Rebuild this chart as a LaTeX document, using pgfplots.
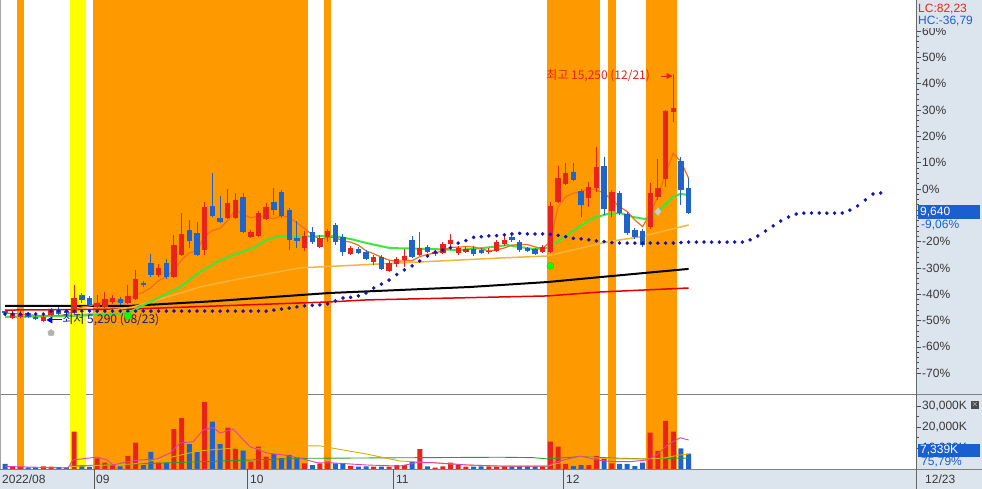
\documentclass[border=0pt]{standalone}
\usepackage{fontspec}
\setmainfont{Liberation Sans}
\newfontfamily\kr{Noto Sans CJK KR}
\usepackage{pgfplots}
\usepackage{pgfplotstable}
\pgfplotsset{compat=1.18}
\usetikzlibrary{arrows.meta}

\definecolor{bandorange}{HTML}{FF9900}
\definecolor{bandyellow}{HTML}{FFFF00}
\definecolor{cred}{HTML}{E8231B}
\definecolor{cblue}{HTML}{1F63CC}
\definecolor{panel}{HTML}{DCE4EE}
\definecolor{maorange}{HTML}{F26B22}
\definecolor{magreen}{HTML}{3CE63C}
\definecolor{mayellow}{HTML}{F2B53A}
\definecolor{mared}{HTML}{E00000}
\definecolor{sar}{HTML}{1414B4}
\definecolor{vmag}{HTML}{E040B0}
\definecolor{vyel}{HTML}{D8B000}
\definecolor{vgrn}{HTML}{2E9A2E}
\definecolor{boxblue}{HTML}{1A5FD0}
\definecolor{lbl}{HTML}{383838}
\definecolor{navy}{HTML}{1C1C80}

% red (up) candles: index, open, high, low, close, volume (K)
\pgfplotstableread{
i O H L C V
1 5400 5680 5360 5600 1100
2 5440 5680 5400 5560 1000
5 5300 5480 5290 5440 1300
6 5520 5800 5480 5720 1100
9 5600 6730 5560 6210 17800
12 5850 6330 5800 6010 5100
13 5850 6450 5800 6170 3000
14 6050 6330 5970 6210 1800
16 6010 6730 5970 6290 6200
17 6170 7340 6130 6970 12500
20 7130 7580 7050 7420 3000
22 7050 8750 7010 8340 19000
23 7940 9630 7900 8790 24400
26 8140 10080 7940 9870 32000
29 9430 10600 9390 10040 19700
30 9430 10440 9390 10160 10100
32 8670 8950 8630 8870 3500
33 8710 9710 8670 9630 10600
34 9390 10040 9350 9870 5900
39 8220 8910 8100 8710 2700
41 8260 8750 8220 8630 2700
42 8670 8990 8470 8910 3500
45 7980 8300 7940 8220 1500
48 7660 7940 7540 7860 1100
50 7300 7700 7260 7620 1100
51 7580 7860 7460 7780 1900
52 7740 8180 7460 7900 1900
54 7940 8870 7900 8220 9500
56 7980 8140 7900 8060 700
57 8020 8470 7980 8380 1300
58 8380 8790 8260 8550 3000
59 8020 8300 7940 8220 1900
60 8060 8260 8020 8180 1100
63 8060 8220 7980 8100 1300
64 8100 8550 8060 8470 1100
65 8380 8790 8300 8550 1400
70 8060 8340 8020 8260 1400
71 8060 10080 8020 9920 13000
72 10080 11530 10040 11040 10600
73 10800 11650 10760 11250 2400
76 10240 10880 9870 10680 1900
77 10640 12290 10480 11490 6200
79 9710 10560 9470 10480 2700
84 9070 10840 8990 10440 17300
85 10280 11810 10160 10640 8600
86 11000 13780 10680 13740 22900
87 13700 15250 13300 13870 17800
}\redc

% blue (down) candles
\pgfplotstableread{
i O H L C V
0 5680 5760 5480 5600 2400
3 5600 5640 5400 5440 800
4 5440 5480 5320 5360 800
7 5760 5850 5520 5560 900
8 5680 5760 5520 5600 800
10 6330 6410 6010 6130 1500
11 6210 6290 5850 5930 1000
15 6170 6250 5930 6010 1300
18 6810 6890 6650 6730 1900
19 7620 7980 7050 7130 8200
21 7620 7780 6970 7050 3000
24 8950 9350 8220 8510 11800
25 8830 9270 7900 7940 8200
27 9920 11250 9470 9510 22500
28 9430 10320 9230 9270 11800
31 10280 10440 8830 8870 8700
35 10080 10640 9550 9750 7100
36 10480 10560 9430 9510 5200
37 9750 9830 8140 8550 6700
38 8630 9310 8220 8510 5600
40 8870 9070 8380 8470 1900
43 9150 9230 8340 8470 2700
44 8670 8790 7900 8060 2300
46 8180 8260 7980 8020 1100
47 8060 8140 7740 7780 1300
49 7860 7940 7340 7380 1100
53 8550 8710 7820 7860 3500
55 8260 8340 8020 8060 1300
61 8180 8300 7900 7980 1100
62 8140 8220 7980 8020 1300
66 8670 8830 8470 8550 1400
67 8470 8550 8060 8140 1400
68 8220 8260 8060 8100 1400
69 8180 8220 7940 7980 1400
74 11290 11650 10920 10960 1400
75 10520 10600 9470 9960 1900
78 11530 11890 9550 9790 5400
80 10440 10520 9550 9630 2400
81 9590 9670 8750 8830 2400
82 8950 9030 8590 8670 1400
83 8910 8990 8260 8340 3000
88 11730 11890 9960 10560 9800
89 10640 11040 9590 9640 7339
}\bluec

\pgfplotstableread{
i P
0 5600
1 5580
2 5560
3 5530
4 5512
5 5480
6 5504
7 5504
8 5536
9 5706
10 5844
11 5886
12 5976
13 6090
14 6090
15 6066
16 6138
17 6330
18 6442
19 6626
20 6908
21 7060
22 7334
23 7746
24 8022
25 8126
26 8690
27 8924
28 9020
29 9326
30 9770
31 9570
32 9442
33 9514
34 9480
35 9398
36 9526
37 9462
38 9238
39 9006
40 8750
41 8574
42 8646
43 8638
44 8508
45 8458
46 8336
47 8110
48 7988
49 7852
50 7732
51 7684
52 7708
53 7708
54 7876
55 7964
56 8020
57 8116
58 8254
59 8254
60 8278
61 8262
62 8190
63 8100
64 8150
65 8224
66 8338
67 8362
68 8362
69 8264
70 8206
71 8480
72 9890
73 10290
74 10430
75 10490
76 10630
77 10560
78 10430
79 10160
80 9890
81 9690
82 9350
83 9080
84 9620
85 10290
86 11230
87 12040
88 11700
89 11030
}\mafive

\pgfplotstableread{
i P
0 5450
7.2 5480
12.4 5520
15.9 5600
17.6 5850
20.2 6250
22.8 6650
25.4 7260
27.6 7660
29.7 7940
32.3 8220
34.1 8550
35.8 8710
37.1 8670
42.7 8710
44.9 8590
47.1 8420
50.1 8220
55.7 8180
58.9 8140
62.2 8220
65.4 8340
68.8 8180
70.6 8220
72.3 8550
74.5 9030
76.6 9430
78.4 9590
80.1 9630
81.8 9470
83.3 9390
84.9 9670
87.0 10280
87.9 10400
89.0 10360
}\matwenty

\pgfplotstableread{
i P
0 5440
9.1 5480
16.7 5850
21.1 6250
25.4 6650
29.7 6930
38.4 7420
51.4 7620
64.5 7820
70.6 7900
78.4 8470
82.7 8670
89.0 9150
}\masixty

\pgfplotstableread{
i P
0 5890
16.3 5890
26.7 6070
42.3 6410
60.5 6650
70.6 6850
77.5 7050
89 7380
}\mablack

\pgfplotstableread{
i P
0 5720
16.3 5760
42.3 6050
47.1 6130
70.6 6290
77.5 6450
89 6610
}\mared

\pgfplotstableread{
i P
0 5560
1 5560
2 5560
3 5560
4 5560
5 5560
6 5680
7 5680
8 5680
9 5680
10 5680
11 5680
12 5680
13 5680
14 5680
15 5680
16 5680
17 5680
18 5680
19 5680
20 5680
21 5680
22 5680
23 5680
24 5680
25 5680
26 5680
27 5680
28 5680
29 5680
30 5680
31 5680
32 5680
33 5680
34 5680
35 5720
36 5760
37 5800
38 5850
39 5890
40 5910
41 5930
42 5970
43 6090
44 6210
45 6230
46 6290
47 6410
48 6610
49 6770
50 6930
51 7150
52 7340
53 7500
54 7700
55 7900
56 8060
57 8140
58 8230
59 8420
60 8520
61 8650
62 8680
63 8710
64 8720
65 8750
66 8790
67 8810
68 8790
69 8790
70 8790
71 8770
72 8730
73 8680
74 8610
75 8590
76 8550
77 8510
78 8480
79 8440
80 8420
81 8420
82 8420
83 8420
84 8420
85 8420
86 8420
87 8420
88 8440
89 8460
90 8460
91 8460
92 8460
93 8460
94 8460
95 8460
96 8460
97 8550
98 8710
99 8910
100 9110
101 9310
102 9470
103 9590
104 9630
105 9630
106 9630
107 9630
108 9630
109 9630
110 9750
111 9920
112 10160
113 10400
114 10440
}\sartab

\pgfplotstableread{
i V
0 1200
8.2 500
8.85 4300
12.0 5700
13.3 4300
14.1 1900
15.9 3500
17.6 4300
19.8 4800
21.5 7600
22.8 12400
24.5 13000
25.8 18600
27.1 19700
28.0 17100
29.7 19000
31.9 10600
34.1 7600
36.2 6700
38.4 5200
40.6 3000
42.7 2900
47.1 1900
51.4 1400
53.6 3000
55.7 3000
60.2 1900
64.5 1400
70.6 1400
71.9 3500
74.9 6200
77.1 4300
79.2 3500
81.4 3500
83.6 4300
84.9 6700
86.2 11400
87.9 14900
89.0 13800
}\vmagtab

\pgfplotstableread{
i V
8.46 1100
16.7 2400
21.1 5200
25.4 8700
29.7 9900
34.1 9500
39.3 11000
41.0 11000
42.7 9900
47.1 7100
51.4 3800
55.7 3000
60.2 1900
64.5 1400
70.6 1400
72.7 3300
74.9 5900
77.1 5200
79.2 4800
83.6 4800
85.7 5200
87.9 6700
89.0 7100
}\vyeltab

\pgfplotstableread{
i V
8.46 1400
21.1 2900
29.7 4000
39.3 5100
54.4 5400
64.5 5600
68.8 5400
70.6 4800
74.9 5900
79.2 5200
83.6 4800
87.9 5200
89.0 5200
}\vgrntab

\begin{document}
\begin{tikzpicture}[x=1pt,y=1pt]
\fill[white] (0,0) rectangle (982,489);
\useasboundingbox (0,0) rectangle (982,489);
\fill[panel] (916,0) rectangle (982,489);
\fill[panel] (0,0) rectangle (916,20);
\draw[gray, line width=1pt] (0,94) -- (982,94);
\draw[gray, line width=0.8pt] (0,20) -- (982,20);

% ================= PRICE PANEL =================
\begin{axis}[
  at={(0pt,94pt)}, anchor=south west, scale only axis,
  width=916pt, height=395pt,
  xmin=-0.651, xmax=118.6, ymin=2298, ymax=18217,
  axis x line=none, axis y line*=right, y axis line style={draw=none},
  scaled y ticks=false,
  ytick={3180,4240,5300,6360,7420,8480,9540,10600,11660,12720,13780,14840,15900,16960},
  yticklabels={-70\%,-60\%,-50\%,-40\%,-30\%,-20\%,{},0\%,10\%,20\%,30\%,40\%,50\%,60\%},
  minor y tick num=4,
  tick align=outside, major tick length=5pt, minor tick length=2.5pt,
  every tick/.style={draw=gray!60!black, line width=0.6pt},
  yticklabel style={font=\fontsize{12}{12}\selectfont, text=lbl, inner sep=1pt},
]
% background bands
\addplot[fill=bandorange, draw=none, forget plot] coordinates {(1.5,2298) (2.5,2298) (2.5,18217) (1.5,18217)} -- cycle;
\addplot[fill=bandyellow, draw=none, forget plot] coordinates {(8.5,2298) (10.5,2298) (10.5,18217) (8.5,18217)} -- cycle;
\addplot[fill=bandorange, draw=none, forget plot] coordinates {(11.5,2298) (39.5,2298) (39.5,18217) (11.5,18217)} -- cycle;
\addplot[fill=bandorange, draw=none, forget plot] coordinates {(41.5,2298) (42.5,2298) (42.5,18217) (41.5,18217)} -- cycle;
\addplot[fill=bandorange, draw=none, forget plot] coordinates {(70.5,2298) (77.5,2298) (77.5,18217) (70.5,18217)} -- cycle;
\addplot[fill=bandorange, draw=none, forget plot] coordinates {(78.5,2298) (79.5,2298) (79.5,18217) (78.5,18217)} -- cycle;
\addplot[fill=bandorange, draw=none, forget plot] coordinates {(83.5,2298) (87.5,2298) (87.5,18217) (83.5,18217)} -- cycle;

% long moving averages
\addplot[mared, line width=1.5pt, forget plot] table[x=i, y=P] {\mared};
\addplot[black, line width=2pt, forget plot] table[x=i, y=P] {\mablack};
\addplot[mayellow, line width=1.5pt, forget plot] table[x=i, y=P] {\masixty};
\addplot[magreen, line width=2pt, forget plot] table[x=i, y=P] {\matwenty};
\addplot[maorange, line width=1.2pt, forget plot] table[x=i, y=P] {\mafive};

% candles: wicks
\addplot[draw=none, mark=none, forget plot,
  error bars/.cd, y dir=both, y explicit, error mark=none,
  error bar style={draw=cred, line width=1pt}]
  table[x=i, y=O, y error plus expr=\thisrow{H}-\thisrow{O}, y error minus expr=\thisrow{O}-\thisrow{L}] {\redc};
\addplot[draw=none, mark=none, forget plot,
  error bars/.cd, y dir=both, y explicit, error mark=none,
  error bar style={draw=cblue, line width=1pt}]
  table[x=i, y=O, y error plus expr=\thisrow{H}-\thisrow{O}, y error minus expr=\thisrow{O}-\thisrow{L}] {\bluec};
% candles: bodies
\addplot[draw=none, mark=none, forget plot,
  error bars/.cd, y dir=plus, y explicit, error mark=none,
  error bar style={draw=cred, line width=5.4pt}]
  table[x=i, y=O, y error plus expr=\thisrow{C}-\thisrow{O}] {\redc};
\addplot[draw=none, mark=none, forget plot,
  error bars/.cd, y dir=plus, y explicit, error mark=none,
  error bar style={draw=cblue, line width=5.4pt}]
  table[x=i, y=C, y error plus expr=\thisrow{O}-\thisrow{C}] {\bluec};

% parabolic SAR dots
\addplot[only marks, mark=*, mark size=1.6pt, color=sar, forget plot] table[x=i, y=P] {\sartab};

% signal markers
\addplot[only marks, mark=*, mark size=3.5pt, color=green!85!black, fill=green!90!lime, forget plot] coordinates {(16,5480) (71,7500)};
\addplot[only marks, mark=pentagon*, mark size=3.5pt, color=gray!60, forget plot] coordinates {(6,4800)};
\addplot[only marks, mark=diamond*, mark size=4pt, color=gray!40, forget plot] coordinates {(85,9690)};

% annotations
\node[anchor=west, inner sep=0pt, text=navy, font=\kr\fontsize{12}{12}\selectfont] at (axis cs:7.45,5321) {최저 5,290 (08/23)};
\draw[blue, line width=1pt, -{Triangle[length=6pt,width=7pt]}] (axis cs:7.4,5321) -- (axis cs:5.4,5321);
\node[anchor=west, inner sep=0pt, text=cred, font=\kr\fontsize{12}{12}\selectfont] at (axis cs:70.45,15154) {최고 15,250 (12/21)};
\draw[cred, line width=0.8pt, -{Triangle[length=6pt,width=6pt]}] (axis cs:85.4,15154) -- (axis cs:86.9,15154);
\end{axis}

% ================= VOLUME PANEL =================
\begin{axis}[
  at={(0pt,20pt)}, anchor=south west, scale only axis,
  width=916pt, height=74pt,
  xmin=-0.651, xmax=118.6, ymin=0, ymax=35238,
  axis x line=none, axis y line*=right, y axis line style={draw=none},
  scaled y ticks=false,
  ytick={10000,20000,30000},
  yticklabels={{10,000K},{20,000K},{30,000K}},
  minor y tick num=1,
  tick align=outside, major tick length=5pt, minor tick length=2.5pt,
  every tick/.style={draw=gray!60!black, line width=0.6pt},
  yticklabel style={font=\fontsize{12}{12}\selectfont, text=lbl, inner sep=1pt},
]
\addplot[fill=bandorange, draw=none, forget plot] coordinates {(1.5,0) (2.5,0) (2.5,35238) (1.5,35238)} -- cycle;
\addplot[fill=bandyellow, draw=none, forget plot] coordinates {(8.5,0) (10.5,0) (10.5,35238) (8.5,35238)} -- cycle;
\addplot[fill=bandorange, draw=none, forget plot] coordinates {(11.5,0) (39.5,0) (39.5,35238) (11.5,35238)} -- cycle;
\addplot[fill=bandorange, draw=none, forget plot] coordinates {(41.5,0) (42.5,0) (42.5,35238) (41.5,35238)} -- cycle;
\addplot[fill=bandorange, draw=none, forget plot] coordinates {(70.5,0) (77.5,0) (77.5,35238) (70.5,35238)} -- cycle;
\addplot[fill=bandorange, draw=none, forget plot] coordinates {(78.5,0) (79.5,0) (79.5,35238) (78.5,35238)} -- cycle;
\addplot[fill=bandorange, draw=none, forget plot] coordinates {(83.5,0) (87.5,0) (87.5,35238) (83.5,35238)} -- cycle;

\addplot[ybar, bar width=5pt, bar shift=0pt, fill=cred, draw=none, forget plot] table[x=i, y=V] {\redc};
\addplot[ybar, bar width=5pt, bar shift=0pt, fill=cblue, draw=none, forget plot] table[x=i, y=V] {\bluec};

\addplot[vgrn, line width=0.9pt, forget plot] table[x=i, y=V] {\vgrntab};
\addplot[vyel, line width=0.9pt, forget plot] table[x=i, y=V] {\vyeltab};
\addplot[vmag, line width=0.9pt, forget plot] table[x=i, y=V] {\vmagtab};
\end{axis}

% separators and frame
\draw[gray!70, line width=1.2pt] (0.6,20) -- (0.6,489);
\draw[gray!80!black, line width=0.8pt] (916,0) -- (916,489);
\foreach \xx in {94.3,247.3,393.3,563.3} {\draw[gray!70!black, line width=0.7pt] (\xx,0) -- (\xx,20);}

% date labels
\begin{scope}[every node/.style={anchor=west, inner sep=0pt, text=lbl, font=\fontsize{12}{12}\selectfont}]
\node at (2,10) {2022/08};
\node at (96,10) {09};
\node at (250,10) {10};
\node at (396,10) {11};
\node at (566,10) {12};
\node at (925,10) {12/23};
\end{scope}

% right panel overlays
\node[anchor=west, inner sep=0pt, text=cred, font=\fontsize{12}{12}\selectfont] at (918,480) {LC:82,23};
\node[anchor=west, inner sep=1pt, fill=panel, minimum height=14pt, text=boxblue, font=\fontsize{12}{12}\selectfont] at (917,468) {HC:-36,79\hspace{6pt}};
\fill[boxblue] (918,270) rectangle (980,284);
\node[anchor=west, inner sep=0pt, text=white, font=\fontsize{12}{12}\selectfont] at (920,277) {9,640};
\node[anchor=west, inner sep=0pt, text=boxblue, font=\fontsize{12}{12}\selectfont] at (921,263.5) {-9,06\%};
\fill[boxblue] (918,32) rectangle (980,45);
\node[anchor=west, inner sep=0pt, text=white, font=\fontsize{12}{12}\selectfont] at (920,38.5) {7,339K};
\node[anchor=west, inner sep=0pt, text=boxblue, font=\fontsize{12}{12}\selectfont] at (921,26.5) {75,79\%};
\node[fill=gray!60!black, text=white, inner sep=0pt, minimum size=8pt, font=\fontsize{8}{8}\selectfont] at (975,84) {$\times$};
\end{tikzpicture}
\end{document}
